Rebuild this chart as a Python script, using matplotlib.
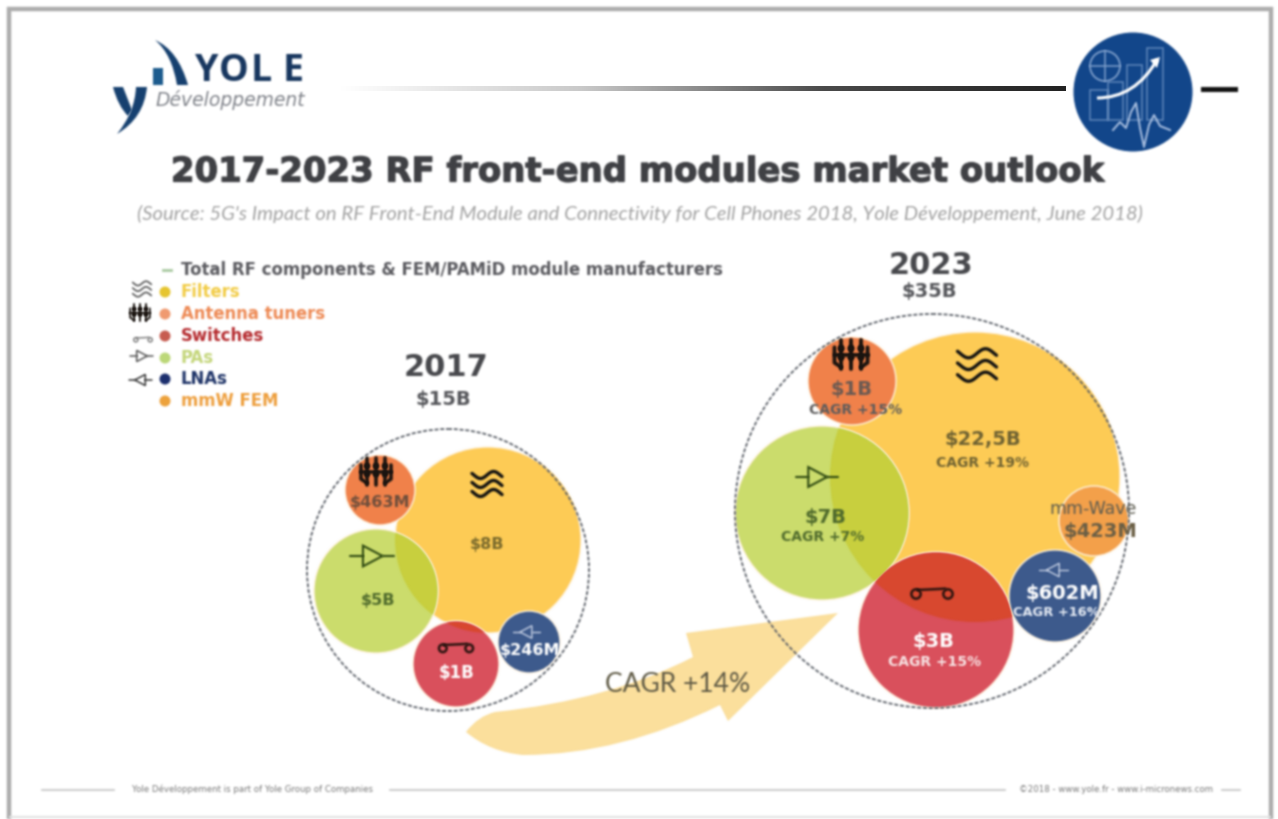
import numpy as np
import matplotlib
matplotlib.use('Agg')
import matplotlib.pyplot as plt
import matplotlib.patheffects as pe
from matplotlib.patches import Circle, PathPatch, Polygon, Rectangle
from matplotlib.path import Path

# market data
title = '2017-2023 RF front-end modules market outlook'
source = ("(Source: 5G's Impact on RF Front-End Module and Connectivity for Cell Phones 2018, "
          "Yole Développement, June 2018)")
legend_labels = ['Total RF components & FEM/PAMiD module manufacturers', 'Filters', 'Antenna tuners',
                 'Switches', 'PAs', 'LNAs', 'mmW FEM']
labels_2017 = ['$8B', '$463M', '$5B', '$1B', '$246M']
labels_2023 = ['$22,5B', '$1B', '$7B', '$3B', '$602M', '$423M']
cagr_2023 = ['CAGR +19%', 'CAGR +15%', 'CAGR +7%', 'CAGR +15%', 'CAGR +16%', '']

# layout, in pixels of the 1278x819 picture
x_2017 = [488, 380, 376, 456, 529]
y_2017 = [540, 490, 591, 664, 642]
r_2017 = [93, 35, 62, 43, 31]
x_2023 = [975, 852, 822, 936, 1055, 1094]
y_2023 = [477, 381, 513, 630, 596, 521]
r_2023 = [145, 44, 87, 78, 46, 35]

FILTER = '#fdcb55'
ANTENNA = '#f0814a'
PA = '#cbdc6c'
PA_OVER = '#c8cf3e'
SWITCH = '#d9505c'
SWITCH_OVER = '#d8482f'
LNA = '#3d5a8c'
MMW = '#f3a04a'
GREY = '#55565a'

plt.rcParams['font.family'] = ['DejaVu Sans']

fig = plt.figure(figsize=(12.78, 8.19), dpi=100)
ax = fig.add_axes([0, 0, 1, 1])
ax.axis('off')


def soften(image, dpi):
    # the source picture is a soft jpeg, a small binomial blur gets close to it
    pad = 4
    a = np.pad(image, ((pad, pad), (pad, pad), (0, 0)))
    a[..., :3] *= a[..., 3:]
    for _ in range(2):
        for axis in (0, 1):
            a = (np.roll(a, 1, axis) + 2 * a + np.roll(a, -1, axis)) / 4
    alpha = np.clip(a[..., 3:], 1e-4, 1)
    a[..., :3] = np.clip(a[..., :3] / alpha, 0, 1)
    return a, -pad, -pad


def icon_line(xs, ys, color='#111111', lw=1.6):
    ax.plot(xs, ys, color=color, lw=lw, solid_capstyle='round', zorder=8)


def amp(cx, cy, s, flip=False, color='#222222', lw=1.5):
    d = -1 if flip else 1
    ax.add_patch(Polygon([(cx - 7 * s * d, cy - 9 * s), (cx - 7 * s * d, cy + 9 * s), (cx + 10 * s * d, cy)],
                         fill=False, ec=color, lw=lw, zorder=8))
    icon_line([cx - 18 * s * d, cx - 7 * s * d], [cy, cy], color, lw)
    icon_line([cx + 10 * s * d, cx + 20 * s * d], [cy, cy], color, lw)


def waves(cx, cy, s, lw=2.2, color='#111111'):
    t = np.linspace(-1, 1, 30)
    for off in (-9, 0, 9):
        icon_line(cx + 15 * s * t, cy + (off - 3.5 * np.sin(t * 3.6)) * s, color, lw)


def tuner(cx, cy, s, color='#1a1410', lw=2.2):
    for dx in (-9, 0, 9):
        icon_line([cx + dx * s, cx + dx * s], [cy - 14 * s, cy + 13 * s], color, lw)
        for dy in (-6, 2):
            ax.add_patch(Circle((cx + dx * s, cy + dy * s), 2.6 * s, color=color, zorder=8))
    icon_line([cx - 15 * s, cx + 15 * s], [cy, cy], color, lw)
    icon_line([cx - 15 * s, cx - 15 * s, cx - 9 * s], [cy - 7 * s, cy + 7 * s, cy + 11 * s], color, lw)
    icon_line([cx + 15 * s, cx + 15 * s, cx + 9 * s], [cy - 7 * s, cy + 7 * s, cy + 11 * s], color, lw)


def switch(cx, cy, s, color='#2a1410', lw=1.8):
    ax.add_patch(Circle((cx - 12 * s, cy + 3 * s), 3.5 * s, fill=False, ec=color, lw=lw, zorder=8))
    ax.add_patch(Circle((cx + 12 * s, cy + 3 * s), 3.5 * s, fill=False, ec=color, lw=lw, zorder=8))
    icon_line([cx - 11 * s, cx + 10 * s], [cy, cy - 1 * s], color, lw)


def bubbles(xs, ys, rs, colors):
    # filter bubble lies under the others, the overlaps get their own tint
    for x, y, r, c in zip(xs, ys, rs, colors):
        ax.add_patch(Circle((x, y), r, fc=c, ec='#fff3e0', lw=1.0, zorder=3))
    base = Circle((xs[0], ys[0]), rs[0], transform=ax.transData)
    for i, c in ((2, PA_OVER), (3, SWITCH_OVER)):
        over = Circle((xs[i], ys[i]), rs[i] - 1, fc=c, ec='none', zorder=4)
        ax.add_patch(over)
        over.set_clip_path(base)


def label(x, y, s, size, color=GREY, weight='bold', **kw):
    return ax.text(x, y, s, fontsize=size, color=color, fontweight=weight, ha='center', va='center',
                   zorder=9, **kw)


# frame
FRAME = '#adadad'
ax.plot([8.5, 8.5, 1271, 1271], [819, 8.5, 8.5, 819], color=FRAME, lw=3.2, solid_joinstyle='miter')
ax.plot([10, 1270], [817, 817], color='#e2e2e2', lw=1.5)

# logo
LOGO_DARK = '#16406f'
MC3 = Path.CURVE3
ax.add_patch(PathPatch(Path([(155, 40), (178, 50), (188, 85), (177, 85), (172, 54), (155, 40)],
                            [Path.MOVETO, MC3, MC3, Path.LINETO, MC3, MC3]), fc=LOGO_DARK, ec='none'))
ax.add_patch(Rectangle((153, 68), 10, 17, fc='#1d5c8e', ec='none'))
ax.add_patch(PathPatch(Path([(113, 87), (123, 87), (132, 110), (128, 116), (118, 106), (113, 87)],
                            [Path.MOVETO, Path.LINETO, Path.LINETO, Path.LINETO, MC3, MC3]), fc=LOGO_DARK, ec='none'))
ax.add_patch(PathPatch(Path([(136, 87), (147, 87), (144, 118), (117, 134), (135, 112), (136, 87)],
                            [Path.MOVETO, Path.LINETO, MC3, MC3, MC3, MC3]), fc=LOGO_DARK, ec='none'))
for ch, x in zip('YOLE', (207, 233.5, 261, 293)):
    ax.text(x, 71, ch, fontsize=27, color='#17365f', fontweight='bold', ha='center', va='center',
            family=['Open Sans'])
ax.text(155, 100, 'Développement', fontsize=13.5, color='#80838a', style='italic', ha='left', va='center')

# header rule and emblem
rule = np.linspace(0, 1, 256).reshape(1, -1)
rule_cmap = matplotlib.colors.LinearSegmentedColormap.from_list('rule', ['#ffffff', '#c9c9c9', '#4a4a4a', '#222222'])
ax.imshow(rule, extent=(340, 1066, 91, 86), aspect='auto', cmap=rule_cmap, zorder=1)
ax.set_xlim(0, 1278)
ax.set_ylim(819, 0)
ax.add_patch(Rectangle((1201, 86.5), 37, 5, fc='#111111', ec='none'))
ax.add_patch(Circle((1133, 92), 59.5, fc='#12468a', ec='none', zorder=2))
for bx, by, bw, bh in ((1090, 90, 18, 30), (1108, 82, 15, 38), (1127, 65, 15, 55), (1147, 48, 16, 72)):
    ax.add_patch(Rectangle((bx, by), bw, bh, fill=False, ec='#5f86ba', lw=1.1, zorder=3))
ax.add_patch(Circle((1105, 66), 15, fill=False, ec='#7f9fcb', lw=1.3, zorder=3))
ax.plot([1090, 1120], [66, 66], color='#7f9fcb', lw=1.1, zorder=3)
ax.plot([1105, 1105], [51, 81], color='#7f9fcb', lw=1.1, zorder=3)
curve = Path([(1097, 98), (1135, 98), (1157, 60)], [Path.MOVETO, MC3, MC3])
ax.add_patch(PathPatch(curve, fill=False, ec='white', lw=2.2, zorder=4))
ax.add_patch(Polygon([(1160, 57), (1150, 60), (1157, 68)], fc='white', ec='none', zorder=4))
ax.plot([1113, 1120, 1126, 1131, 1136, 1140, 1144, 1149, 1154, 1160, 1170],
        [130, 122, 128, 112, 103, 128, 147, 125, 115, 126, 130], color='#a9bfe0', lw=1.4, zorder=4)

# title
title_text = ax.text(638, 172, title, fontsize=24.4, color='#3f4044', fontweight='bold', ha='center', va='center')
title_text.set_path_effects([pe.withStroke(linewidth=0.9, foreground='#3f4044')])
ax.text(640, 214, source, fontsize=14.55, color='#a3a3a3', style='italic', ha='center', va='center',
        family=['Lato'])

# legend
legend_colors = ['#a8c9a0', '#e6c52f', '#f09a70', '#c75c50', '#bcd878', '#1c2f6e', '#eda23c']
text_colors = ['#5b5b60', '#f2cc45', '#ee8a55', '#b52a2e', '#c4d67a', '#1f3468', '#ee9e3c']
legend_y = [270, 292, 314, 336, 358, 379, 401]
for i, (lab, c, tc, y) in enumerate(zip(legend_labels, legend_colors, text_colors, legend_y)):
    if i == 0:
        ax.plot([163, 171], [y, y], color=c, lw=2)
    else:
        ax.add_patch(Circle((165, y), 5.5, fc=c, ec='none'))
    ax.text(181, y, lab, fontsize=11.9, color=tc, fontweight='bold', ha='left', va='center')
waves(142, 289, 0.62, lw=1.2, color='#555555')
tuner(140, 313, 0.65, lw=1.4)
switch(143, 338, 0.6, color='#777777', lw=1)
amp(141, 356, 0.62, color='#555555', lw=1.1)
amp(141, 380, 0.62, flip=True, color='#333333', lw=1.1)

# connecting arrow, under the bubbles
arrow_verts = [(466, 732), (478, 716), (495, 712), (610, 700), (693, 657), (686, 633), (838, 613), (728, 721),
               (720, 705), (620, 755), (523, 755), (490, 752), (466, 732)]
arrow_codes = [Path.MOVETO, MC3, MC3, MC3, MC3, Path.LINETO, Path.LINETO, Path.LINETO, Path.LINETO,
               MC3, MC3, MC3, MC3]
ax.add_patch(PathPatch(Path(arrow_verts, arrow_codes), fc='#fbdf9c', ec='none', zorder=1))
ax.text(678, 685, 'CAGR +14%', fontsize=19, color='#5f5a45', ha='center', va='center', zorder=9, family=['Lato'])

# 2017
label(446, 368, '2017', 22, '#47484c')
label(443, 400, '$15B', 14)
bubbles(x_2017, y_2017, r_2017, [FILTER, ANTENNA, PA, SWITCH, LNA])
ax.add_patch(Circle((448, 570), 141, fill=False, ec='#5b6068', lw=1.3, ls=(0, (2.2, 1.0)), zorder=7))
waves(487, 484, 1.0, lw=2.4)
tuner(376, 472, 1.0, lw=2.6)
amp(371, 556, 1.15, color='#2f4a12')
switch(456, 645, 1.1)
amp(527, 632, 0.7, flip=True, color='#c6d0e4', lw=1)
label(487, 545, labels_2017[0], 11.5, '#7a6a2c')
label(380, 503, labels_2017[1], 11.5, '#6f4f3c')
label(378, 601, labels_2017[2], 11.5, '#4f6a2c')
label(457, 673, labels_2017[3], 12, 'white')
label(530, 650, labels_2017[4], 11.5, 'white')

# 2023
label(931, 265, '2023', 22, '#47484c')
label(929, 291, '$35B', 14)
bubbles(x_2023, y_2023, r_2023, [FILTER, ANTENNA, PA, SWITCH, LNA, MMW])
ax.add_patch(Circle((932, 511), 197, fill=False, ec='#5b6068', lw=1.3, ls=(0, (2.2, 1.0)), zorder=7))
waves(977, 365, 1.3, lw=2.4)
tuner(851, 355, 1.1, lw=2.8)
amp(816, 477, 1.1, color='#2f4a12')
switch(932, 590, 1.33)
amp(1054, 570, 0.75, flip=True, color='#c6d0e4', lw=1)
label(983, 440, labels_2023[0], 14, '#6f6232')
label(983, 463, cagr_2023[0], 10, '#6f6232')
label(851, 390, labels_2023[1], 14, '#6b5a52')
label(856, 410, cagr_2023[1], 10, '#5d5c5c')
label(825, 517, labels_2023[2], 14, '#4f6a2c')
label(823, 537, cagr_2023[2], 10, '#4f6a2c')
label(933, 641, labels_2023[3], 14, 'white')
label(935, 662, cagr_2023[3], 10, '#f8e6e6')
label(1062, 593, labels_2023[4], 14, 'white')
label(1056, 612, cagr_2023[4], 9.4, '#e8edf5')
label(1093, 509, 'mm-Wave', 12.5, '#5d5c50', weight='normal')
label(1100, 532, labels_2023[5], 14, '#6b5f45')

# footer
for x0, x1 in ((42, 114), (390, 1005), (1222, 1240)):
    ax.plot([x0, x1], [790, 790], color='#c4c4c4', lw=1.2)
ax.text(132, 789, 'Yole Développement is part of Yole Group of Companies', fontsize=6.2, color='#777777',
        ha='left', va='center')
ax.text(1019, 789, '©2018 - www.yole.fr - www.i-micronews.com', fontsize=6.2, color='#777777',
        ha='left', va='center')

for art in ax.patches + ax.lines + ax.texts:
    art.set_agg_filter(soften)

fig.savefig('out.png', dpi=100, facecolor='white')
